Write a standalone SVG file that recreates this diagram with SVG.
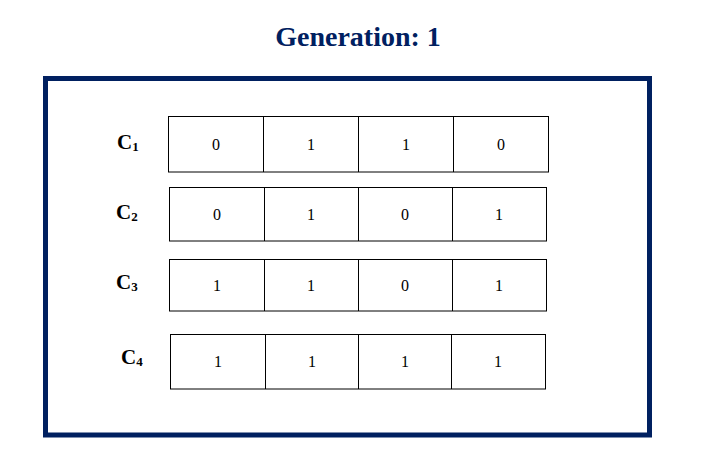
<svg xmlns="http://www.w3.org/2000/svg" width="706" height="460" viewBox="0 0 706 460">
<style>
.title{font-family:"Liberation Serif","Times New Roman",serif;font-weight:bold;font-size:28px;fill:#002060}
.frame{fill:none;stroke:#002060;stroke-width:5}
.cell{fill:#fff;stroke:#000;stroke-width:1}
.lbl{font-family:"Liberation Serif","Times New Roman",serif;font-weight:bold;font-size:21px;fill:#000}
.sub{font-size:13px}
.val{font-family:"Liberation Serif","Times New Roman",serif;font-size:16px;fill:#000;text-anchor:middle}
</style>
<rect width="706" height="460" fill="#fff"/>
<text class="title" x="358" y="46" text-anchor="middle">Generation: 1</text>
<rect class="frame" x="45.5" y="78.5" width="604" height="356.5"/>
<g id="c1">
<text class="lbl" x="117" y="149">C<tspan class="sub" dy="2">1</tspan></text>
<rect class="cell" x="168.5" y="116.5" width="380" height="55.5"/>
<path d="M263.5 116.5V172M358.5 116.5V172M453.5 116.5V172" stroke="#000" fill="none"/>
<text class="val" x="216" y="150">0</text>
<text class="val" x="311" y="150">1</text>
<text class="val" x="406" y="150">1</text>
<text class="val" x="501" y="150">0</text>
</g>
<g id="c2">
<text class="lbl" x="116" y="219">C<tspan class="sub" dy="2">2</tspan></text>
<rect class="cell" x="169.5" y="187.5" width="377" height="53.5"/>
<path d="M264.5 187.5V241M358.5 187.5V241M452.5 187.5V241" stroke="#000" fill="none"/>
<text class="val" x="217" y="220">0</text>
<text class="val" x="311" y="220">1</text>
<text class="val" x="405" y="220">0</text>
<text class="val" x="499" y="220">1</text>
</g>
<g id="c3">
<text class="lbl" x="116" y="289">C<tspan class="sub" dy="2">3</tspan></text>
<rect class="cell" x="169.5" y="259.5" width="377" height="51.5"/>
<path d="M264.5 259.5V311M358.5 259.5V311M452.5 259.5V311" stroke="#000" fill="none"/>
<text class="val" x="217" y="291">1</text>
<text class="val" x="311" y="291">1</text>
<text class="val" x="405" y="291">0</text>
<text class="val" x="499" y="291">1</text>
</g>
<g id="c4">
<text class="lbl" x="121" y="364">C<tspan class="sub" dy="2">4</tspan></text>
<rect class="cell" x="170.5" y="334.5" width="375" height="54.5"/>
<path d="M265.5 334.5V389M358.5 334.5V389M451.5 334.5V389" stroke="#000" fill="none"/>
<text class="val" x="218" y="367">1</text>
<text class="val" x="312" y="367">1</text>
<text class="val" x="405" y="367">1</text>
<text class="val" x="498" y="367">1</text>
</g>
</svg>
